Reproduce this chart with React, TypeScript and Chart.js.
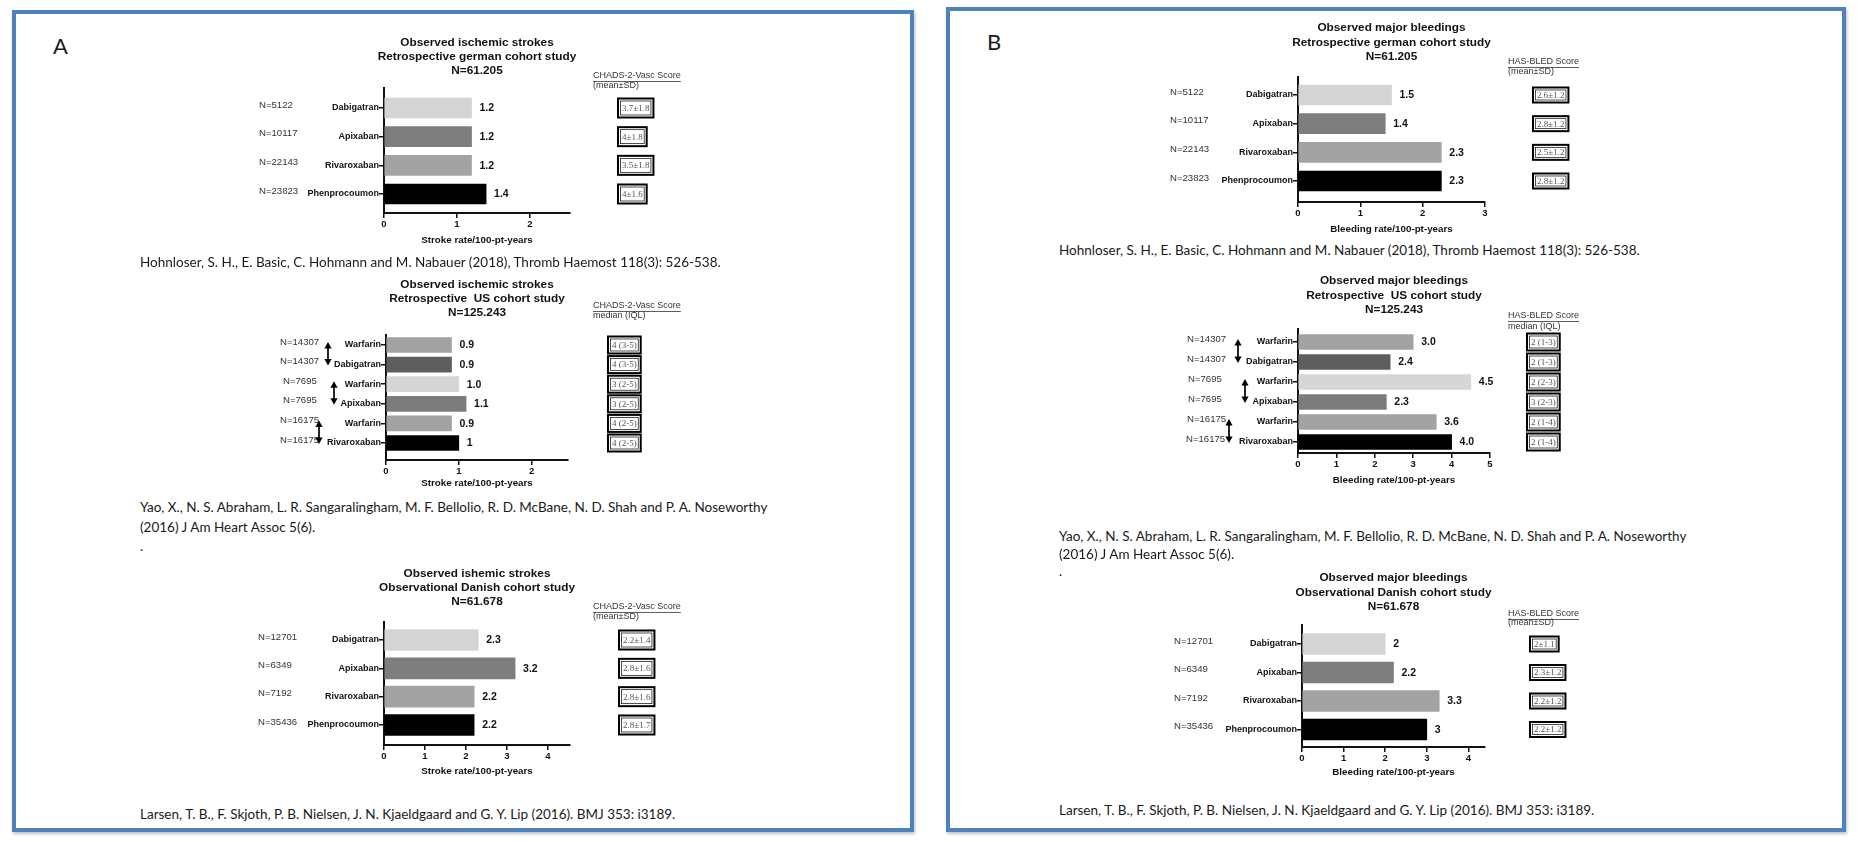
import React, { useEffect, useRef } from "react";
import { Chart, registerables } from "chart.js";
Chart.register(...registerables);

const SANS = '"Liberation Sans", Arial, sans-serif';
const SERIF = '"Liberation Serif", "Times New Roman", serif';
const CAL = 'Lato, "Open Sans", sans-serif';

// ---------- data ----------
const germanDrugs = ["Dabigatran", "Apixaban", "Rivaroxaban", "Phenprocoumon"];
const germanN = ["N=5122", "N=10117", "N=22143", "N=23823"];
const germanColors = ["#d4d4d4", "#7e7e7e", "#a3a3a3", "#000000"];

const usDrugs = ["Warfarin", "Dabigatran", "Warfarin", "Apixaban", "Warfarin", "Rivaroxaban"];
const usN = ["N=14307", "N=14307", "N=7695", "N=7695", "N=16175", "N=16175"];
const usColors = ["#a2a2a2", "#5e5e5e", "#d6d6d6", "#7c7c7c", "#a2a2a2", "#000000"];

const danishDrugs = ["Dabigatran", "Apixaban", "Rivaroxaban", "Phenprocoumon"];
const danishN = ["N=12701", "N=6349", "N=7192", "N=35436"];
const danishColors = ["#d4d4d4", "#7e7e7e", "#a3a3a3", "#000000"];

const strokeGerman = [1.2, 1.2, 1.2, 1.4];
const strokeGermanText = ["1.2", "1.2", "1.2", "1.4"];
const strokeUS = [0.9, 0.9, 1.0, 1.1, 0.9, 1.0];
const strokeUSText = ["0.9", "0.9", "1.0", "1.1", "0.9", "1"];
const strokeDanish = [2.3, 3.2, 2.2, 2.2];
const strokeDanishText = ["2.3", "3.2", "2.2", "2.2"];

const bleedGerman = [1.5, 1.4, 2.3, 2.3];
const bleedGermanText = ["1.5", "1.4", "2.3", "2.3"];
const bleedUS = [3.0, 2.4, 4.5, 2.3, 3.6, 4.0];
const bleedUSText = ["3.0", "2.4", "4.5", "2.3", "3.6", "4.0"];
const bleedDanish = [2, 2.2, 3.3, 3];
const bleedDanishText = ["2", "2.2", "3.3", "3"];

const chadsGerman = ["3.7±1.8", "4±1.8", "3.5±1.8", "4±1.6"];
const chadsUS = ["4 (3-5)", "4 (3-5)", "3 (2-5)", "3 (2-5)", "4 (2-5)", "4 (2-5)"];
const chadsDanish = ["2.2±1.4", "2.8±1.6", "2.8±1.6", "2.8±1.7"];
const hasbledGerman = ["2.6±1.2", "2.8±1.2", "2.5±1.2", "2.8±1.2"];
const hasbledUS = ["2 (1-3)", "2 (1-3)", "2 (2-3)", "3 (2-3)", "2 (1-4)", "2 (1-4)"];
const hasbledDanish = ["2±1.1", "2.3±1.2", "2.2±1.2", "2.2±1.2"];

const strokeXTitle = "Stroke rate/100-pt-years";
const bleedXTitle = "Bleeding rate/100-pt-years";

const titleStrokeGerman = ["Observed ischemic strokes", "Retrospective german cohort study", "N=61.205"];
const titleStrokeUS = ["Observed ischemic strokes", "Retrospective  US cohort study", "N=125.243"];
const titleStrokeDanish = ["Observed ishemic strokes", "Observational Danish cohort study", "N=61.678"];
const titleBleedGerman = ["Observed major bleedings", "Retrospective german cohort study", "N=61.205"];
const titleBleedUS = ["Observed major bleedings", "Retrospective  US cohort study", "N=125.243"];
const titleBleedDanish = ["Observed major bleedings", "Observational Danish cohort study", "N=61.678"];

const citeGerman = "Hohnloser, S. H., E. Basic, C. Hohmann and M. Nabauer (2018), Thromb Haemost 118(3): 526-538.";
const citeUS1 = "Yao, X., N. S. Abraham, L. R. Sangaralingham, M. F. Bellolio, R. D. McBane, N. D. Shah and P. A. Noseworthy";
const citeUS2 = "(2016) J Am Heart Assoc 5(6).";
const citeDanish = "Larsen, T. B., F. Skjoth, P. B. Nielsen, J. N. Kjaeldgaard and G. Y. Lip (2016). BMJ 353: i3189.";

// ---------- layout specs ----------
const YW = 100;
const XH = 30;

type Spec = {
  cv: { l: number; t: number; w: number; h: number };
  area: { left: number; right: number; top: number; bottom: number };
  c0: number;
  cN: number;
  thick: number;
  xmax: number;
  labels: string[];
  values: number[];
  valueText: string[];
  colors: string[];
  title: string[];
  titleY: number[];
  xTitle: string;
  xTitleY: number;
  nLabels: string[];
  nX: number[];
  arrows: { row: number; x: number }[];
  header: string[];
  headerX: number;
  headerY: number[];
  boxes: string[];
  boxX: number;
  boxH: number;
};

const specs: Spec[] = [
  {
    cv: { l: 20, t: 25, w: 880, h: 227 },
    area: { left: 384, right: 570, top: 88, bottom: 213 },
    c0: 108, cN: 194, thick: 20, xmax: 2.55,
    labels: germanDrugs, values: strokeGerman, valueText: strokeGermanText, colors: germanColors,
    title: titleStrokeGerman, titleY: [43, 57, 71],
    xTitle: strokeXTitle, xTitleY: 240,
    nLabels: germanN, nX: [259, 259, 259, 259], arrows: [],
    header: ["CHADS-2-Vasc Score", "(mean±SD)"], headerX: 593, headerY: [76, 86],
    boxes: chadsGerman, boxX: 618, boxH: 19,
  },
  {
    cv: { l: 20, t: 268, w: 880, h: 229 },
    area: { left: 386, right: 568, top: 335, bottom: 460 },
    c0: 345, cN: 443, thick: 15, xmax: 2.5,
    labels: usDrugs, values: strokeUS, valueText: strokeUSText, colors: usColors,
    title: titleStrokeUS, titleY: [285, 299, 313],
    xTitle: strokeXTitle, xTitleY: 483,
    nLabels: usN, nX: [280, 280, 283, 283, 280, 280],
    arrows: [{ row: 0, x: 328 }, { row: 2, x: 334 }, { row: 4, x: 319 }],
    header: ["CHADS-2-Vasc Score", "median (IQL)"], headerX: 593, headerY: [306, 316],
    boxes: chadsUS, boxX: 608, boxH: 17,
  },
  {
    cv: { l: 20, t: 558, w: 880, h: 224 },
    area: { left: 384, right: 570, top: 622, bottom: 745 },
    c0: 640, cN: 725, thick: 21, xmax: 4.54,
    labels: danishDrugs, values: strokeDanish, valueText: strokeDanishText, colors: danishColors,
    title: titleStrokeDanish, titleY: [574, 588, 602],
    xTitle: strokeXTitle, xTitleY: 771,
    nLabels: danishN, nX: [258, 258, 258, 258], arrows: [],
    header: ["CHADS-2-Vasc Score", "(mean±SD)"], headerX: 593, headerY: [607, 617],
    boxes: chadsDanish, boxX: 619, boxH: 19,
  },
  {
    cv: { l: 955, t: 12, w: 880, h: 225 },
    area: { left: 1298, right: 1485, top: 77, bottom: 202 },
    c0: 95, cN: 181, thick: 20, xmax: 3,
    labels: germanDrugs, values: bleedGerman, valueText: bleedGermanText, colors: germanColors,
    title: titleBleedGerman, titleY: [28, 43, 57],
    xTitle: bleedXTitle, xTitleY: 229,
    nLabels: germanN, nX: [1170, 1170, 1170, 1170], arrows: [],
    header: ["HAS-BLED Score", "(mean±SD)"], headerX: 1508, headerY: [62, 72],
    boxes: hasbledGerman, boxX: 1533, boxH: 15,
  },
  {
    cv: { l: 955, t: 266, w: 880, h: 224 },
    area: { left: 1298, right: 1490, top: 329, bottom: 453 },
    c0: 342, cN: 442, thick: 15, xmax: 5,
    labels: usDrugs, values: bleedUS, valueText: bleedUSText, colors: usColors,
    title: titleBleedUS, titleY: [281, 296, 310],
    xTitle: bleedXTitle, xTitleY: 480,
    nLabels: usN, nX: [1187, 1187, 1188, 1188, 1187, 1186],
    arrows: [{ row: 0, x: 1238 }, { row: 2, x: 1245 }, { row: 4, x: 1229 }],
    header: ["HAS-BLED Score", "median (IQL)"], headerX: 1508, headerY: [316, 327],
    boxes: hasbledUS, boxX: 1527, boxH: 17,
  },
  {
    cv: { l: 955, t: 562, w: 880, h: 221 },
    area: { left: 1302, right: 1485, top: 625, bottom: 747 },
    c0: 644, cN: 729.5, thick: 21, xmax: 4.4,
    labels: danishDrugs, values: bleedDanish, valueText: bleedDanishText, colors: danishColors,
    title: titleBleedDanish, titleY: [578, 593, 607],
    xTitle: bleedXTitle, xTitleY: 772,
    nLabels: danishN, nX: [1174, 1174, 1174, 1174], arrows: [],
    header: ["HAS-BLED Score", "(mean±SD)"], headerX: 1508, headerY: [614, 623],
    boxes: hasbledDanish, boxX: 1530, boxH: 15,
  },
];

function drawArrow(ctx: CanvasRenderingContext2D, x: number, y1: number, y2: number) {
  ctx.strokeStyle = "#000";
  ctx.fillStyle = "#000";
  ctx.lineWidth = 1.7;
  ctx.beginPath();
  ctx.moveTo(x, y1 + 5);
  ctx.lineTo(x, y2 - 5);
  ctx.stroke();
  ctx.beginPath();
  ctx.moveTo(x, y1);
  ctx.lineTo(x - 3.6, y1 + 6.5);
  ctx.lineTo(x + 3.6, y1 + 6.5);
  ctx.closePath();
  ctx.fill();
  ctx.beginPath();
  ctx.moveTo(x, y2);
  ctx.lineTo(x - 3.6, y2 - 6.5);
  ctx.lineTo(x + 3.6, y2 - 6.5);
  ctx.closePath();
  ctx.fill();
}

function BarPanel({ s }: { s: Spec }) {
  const ref = useRef<HTMLCanvasElement | null>(null);
  useEffect(() => {
    if (!ref.current) return;
    const n = s.values.length;
    const unit = (s.cN - s.c0) / (n - 1);
    const ymin = -(s.c0 - s.area.top) / unit;
    const ymax = n - 1 + (s.area.bottom - s.cN) / unit;
    const ox = s.cv.l;
    const oy = s.cv.t;

    const annot = {
      id: "annot",
      afterDraw(chart: any) {
        const ctx: CanvasRenderingContext2D = chart.ctx;
        const ys = chart.scales.y;
        const xs = chart.scales.x;
        const ca = chart.chartArea;
        const cx = (ca.left + ca.right) / 2;
        ctx.save();
        ctx.textBaseline = "middle";
        // titles
        ctx.fillStyle = "#111";
        ctx.textAlign = "center";
        ctx.font = `bold 11.8px ${SANS}`;
        s.title.forEach((t, i) => ctx.fillText(t, cx, s.titleY[i] - oy));
        // x axis title
        ctx.font = `bold 9.8px ${SANS}`;
        ctx.fillText(s.xTitle, cx, s.xTitleY - oy);
        // values
        ctx.textAlign = "left";
        ctx.font = `bold 10.5px ${SANS}`;
        s.values.forEach((v, i) => {
          ctx.fillText(s.valueText[i], xs.getPixelForValue(v) + 8, ys.getPixelForValue(i) + 0.5);
        });
        // N labels
        ctx.font = `9.6px ${SANS}`;
        ctx.fillStyle = "#333";
        s.nLabels.forEach((t, i) => ctx.fillText(t, s.nX[i] - ox, ys.getPixelForValue(i) - 3));
        // arrows
        s.arrows.forEach((a) => {
          const y1 = ys.getPixelForValue(a.row) - 3;
          const y2 = ys.getPixelForValue(a.row + 1) + 1;
          drawArrow(ctx, a.x - ox, y1, y2);
        });
        // header
        ctx.fillStyle = "#333";
        ctx.strokeStyle = "#333";
        ctx.font = `9px ${SANS}`;
        const hx = s.headerX - ox;
        ctx.fillText(s.header[0], hx, s.headerY[0] - oy);
        const hw = ctx.measureText(s.header[0]).width;
        ctx.lineWidth = 0.8;
        ctx.beginPath();
        ctx.moveTo(hx, s.headerY[0] - oy + 5.5);
        ctx.lineTo(hx + hw, s.headerY[0] - oy + 5.5);
        ctx.stroke();
        ctx.fillText(s.header[1], hx, s.headerY[1] - oy);
        // boxes
        ctx.font = `9px ${SERIF}`;
        s.boxes.forEach((t, i) => {
          const w = ctx.measureText(t).width + 8;
          const y = ys.getPixelForValue(i);
          const x = s.boxX - ox;
          const h = s.boxH;
          ctx.strokeStyle = "#000";
          ctx.lineWidth = 2;
          ctx.strokeRect(x, y - h / 2, w, h);
          ctx.lineWidth = 0.7;
          ctx.strokeRect(x + 2.5, y - h / 2 + 2.5, w - 5, h - 5);
          ctx.fillStyle = "#555";
          ctx.fillText(t, x + 4, y + 0.5);
        });
        ctx.restore();
      },
    };

    const chart = new Chart(ref.current, {
      type: "bar",
      data: {
        datasets: [
          {
            data: s.values.map((v, i) => ({ x: v, y: i })),
            backgroundColor: s.colors,
            borderWidth: 0,
            barThickness: s.thick,
          } as any,
        ],
      },
      options: {
        indexAxis: "y",
        responsive: false,
        animation: false,
        devicePixelRatio: 1,
        layout: {
          padding: {
            left: s.area.left - s.cv.l - YW,
            top: s.area.top - s.cv.t,
            right: s.cv.l + s.cv.w - s.area.right,
            bottom: s.cv.t + s.cv.h - s.area.bottom - XH,
          },
        },
        plugins: { legend: { display: false }, tooltip: { enabled: false }, title: { display: false } },
        scales: {
          x: {
            type: "linear",
            min: 0,
            max: s.xmax,
            offset: false,
            afterFit: (sc: any) => {
              sc.height = XH;
            },
            ticks: { stepSize: 1, includeBounds: false, font: { family: SANS, size: 9.5, weight: "bold" }, color: "#111", padding: 1, maxRotation: 0 },
            grid: { offset: false, drawOnChartArea: false, drawTicks: true, tickLength: 5, color: "#111", lineWidth: 1.5 },
            border: { display: true, color: "#111", width: 2 },
          },
          y: {
            type: "linear",
            reverse: true,
            offset: false,
            min: ymin,
            max: ymax,
            afterFit: (sc: any) => {
              sc.width = YW;
            },
            ticks: {
              stepSize: 1,
              includeBounds: false,
              autoSkip: false,
              font: { family: SANS, size: 9, weight: "bold" },
              color: "#111",
              padding: 0,
              callback: (v: any) => (Number.isInteger(v) && s.labels[v] !== undefined ? s.labels[v] : ""),
            },
            grid: { offset: false, drawOnChartArea: false, drawTicks: true, tickLength: 5, color: "#111", lineWidth: 1.5 },
            border: { display: true, color: "#111", width: 2 },
          },
        } as any,
      },
      plugins: [annot],
    });
    return () => chart.destroy();
  }, [s]);

  return (
    <canvas
      ref={ref}
      width={s.cv.w}
      height={s.cv.h}
      style={{ position: "absolute", left: s.cv.l, top: s.cv.t, width: s.cv.w, height: s.cv.h }}
    />
  );
}

function Text({ x, y, children, size = 13.5 }: { x: number; y: number; children: React.ReactNode; size?: number }) {
  return (
    <div
      style={{
        position: "absolute",
        left: x,
        top: y - 10,
        lineHeight: "20px",
        fontFamily: CAL,
        fontSize: size,
        color: "#1a1a1a",
        whiteSpace: "nowrap",
      }}
    >
      {children}
    </div>
  );
}

const frame = (l: number, t: number, r: number, b: number): React.CSSProperties => ({
  position: "absolute",
  left: l,
  top: t,
  width: r - l,
  height: b - t,
  boxSizing: "border-box",
  border: "4px solid #4f81bd",
  boxShadow: "1px 2px 3px rgba(0,0,0,0.25)",
});

export default function App() {
  return (
    <div style={{ position: "absolute", left: 0, top: 0, width: 1860, height: 842, background: "#fff", overflow: "hidden" }}>
      <div style={frame(12, 10, 914, 832)} />
      <div style={frame(946, 7, 1846, 832)} />
      <Text x={53} y={46} size={22}>A</Text>
      <Text x={987} y={42} size={22}>B</Text>
      {specs.map((s, i) => (
        <BarPanel key={i} s={s} />
      ))}
      <Text x={140} y={262}>{citeGerman}</Text>
      <Text x={140} y={507}>{citeUS1}</Text>
      <Text x={140} y={527}>{citeUS2}</Text>
      <Text x={140} y={546}>.</Text>
      <Text x={140} y={814}>{citeDanish}</Text>
      <Text x={1059} y={250}>{citeGerman}</Text>
      <Text x={1059} y={536}>{citeUS1}</Text>
      <Text x={1059} y={554}>{citeUS2}</Text>
      <Text x={1059} y={571}>.</Text>
      <Text x={1059} y={810}>{citeDanish}</Text>
    </div>
  );
}
